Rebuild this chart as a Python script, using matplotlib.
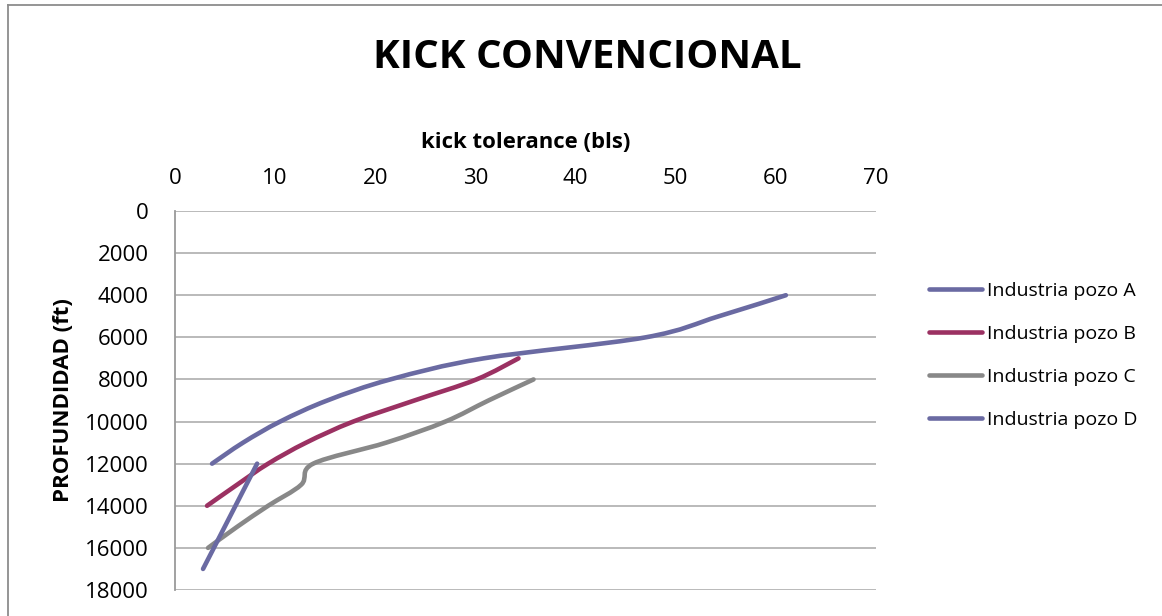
import matplotlib
matplotlib.use("Agg")
import matplotlib.pyplot as plt
from matplotlib.path import Path
from matplotlib.patches import PathPatch
from matplotlib.lines import Line2D
import numpy as np

plt.rcParams['font.family'] = ['Open Sans', 'DejaVu Sans']

title = "KICK CONVENCIONAL"
xlabel = "kick tolerance (bls)"
ylabel = "PROFUNDIDAD (ft)"
series_names = ["Industria pozo A", "Industria pozo B", "Industria pozo C", "Industria pozo D"]

depth_a = [12000, 11000, 10000, 9000, 8000, 7000, 6000, 5000, 4000]
kick_a = [3.7, 6.8, 10.5, 15.2, 21.5, 30.8, 47.0, 54.3, 61.0]

depth_b = [14000, 13000, 12000, 11000, 10000, 9000, 8000, 7000]
kick_b = [3.2, 6.2, 9.3, 13.1, 17.8, 23.9, 30.1, 34.3]

depth_c = [16000, 15000, 14000, 13000, 12000, 11000, 10000, 9000, 8000]
kick_c = [3.3, 6.2, 9.3, 12.6, 13.8, 21.1, 27.0, 31.3, 35.8]

depth_d = [17000, 12000]
kick_d = [2.8, 8.2]

colors = ['#6a6aa2', '#9b3162', '#888888', '#6a6aa2']

xticks = [0, 10, 20, 30, 40, 50, 60, 70]
yticks = [0, 2000, 4000, 6000, 8000, 10000, 12000, 14000, 16000, 18000]


def smooth_path(xs, ys):
    pts = np.column_stack([xs, ys]).astype(float)
    n = len(pts)
    if n < 3:
        return Path(pts, [Path.MOVETO] + [Path.LINETO] * (n - 1))
    verts = [pts[0]]
    codes = [Path.MOVETO]
    for i in range(n - 1):
        p0 = pts[i - 1] if i > 0 else pts[i]
        p1 = pts[i]
        p2 = pts[i + 1]
        p3 = pts[i + 2] if i + 2 < n else pts[i + 1]
        c1 = p1 + (p2 - p0) / 6.0
        c2 = p2 - (p3 - p1) / 6.0
        verts += [c1, c2, p2]
        codes += [Path.CURVE4] * 3
    return Path(verts, codes)


fig = plt.figure(figsize=(11.62, 6.16), dpi=100)
ax = fig.add_axes([175 / 1162, 1 - 590 / 616, (876 - 175) / 1162, (590 - 211) / 616])

all_series = [(kick_a, depth_a), (kick_b, depth_b), (kick_c, depth_c), (kick_d, depth_d)]
for (xs, ys), c in zip(all_series, colors):
    patch = PathPatch(smooth_path(xs, ys), facecolor='none', edgecolor=c, lw=3.3,
                      capstyle='round', joinstyle='round', zorder=3)
    ax.add_patch(patch)

ax.set_xlim(0, 70)
ax.set_ylim(18000, 0)
ax.set_xticks(xticks)
ax.set_yticks(yticks)
ax.xaxis.tick_top()
ax.xaxis.set_label_position('top')
ax.tick_params(axis='both', length=0, labelsize=16, colors='black')
ax.tick_params(axis='x', pad=16)
ax.tick_params(axis='y', pad=19)
ax.yaxis.grid(True, color='#b4b4b4', lw=1.3)
ax.set_axisbelow(True)
for s in ['right', 'bottom', 'top']:
    ax.spines[s].set_visible(False)
ax.spines['left'].set_color('#9a9a9a')
ax.spines['left'].set_linewidth(1.3)

ax.set_xlabel(xlabel, fontsize=15.9, fontweight='bold', labelpad=14)
ax.set_ylabel(ylabel, fontsize=16, fontweight='bold', labelpad=8)

fig.text(587 / 1162, 1 - 58 / 616, title, fontsize=29, fontweight='bold',
         ha='center', va='center')

handles = [Line2D([], [], color=c, lw=3.3, solid_capstyle='round') for c in colors]
fig.legend(handles, series_names, loc='upper left', bbox_to_anchor=(929 / 1162, 1 - 282 / 616),
           frameon=False, fontsize=14, handlelength=2.7, handletextpad=0.27,
           labelspacing=1.28, borderaxespad=0, borderpad=0)

# outer chart border
fig.add_artist(Line2D([8 / 1162, 8 / 1162], [0, 1 - 5 / 616], transform=fig.transFigure,
                      color='#8c8c8c', lw=1.3))
fig.add_artist(Line2D([8 / 1162, 1], [1 - 5 / 616, 1 - 5 / 616], transform=fig.transFigure,
                      color='#8c8c8c', lw=1.3))

fig.savefig("out.png", dpi=100)
